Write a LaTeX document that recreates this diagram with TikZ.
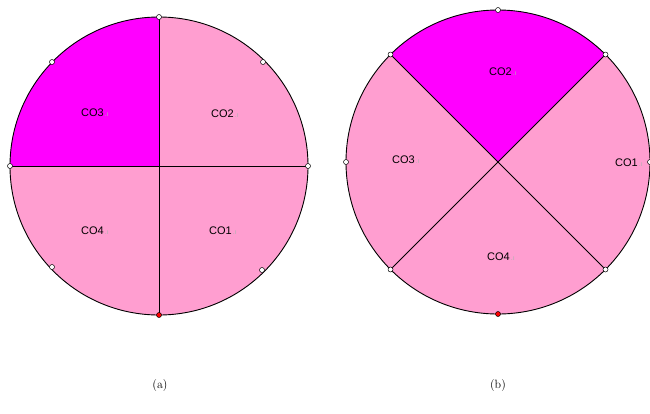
\documentclass[tikz,border=0pt]{standalone}
\usepackage{fontspec}
\newfontfamily\labfont{Liberation Sans}
\definecolor{pinkfill}{RGB}{255,158,208}
\definecolor{magfill}{RGB}{255,0,255}
\tikzset{
  outline/.style={draw=black, line width=0.9pt},
  divider/.style={draw=black, line width=1pt},
  handle/.style={circle, draw=black, fill=white, line width=0.5pt, inner sep=0pt, minimum size=5pt},
  redhandle/.style={handle, fill=red},
  lab/.style={font=\labfont\fontsize{11}{13}\selectfont, inner sep=0pt},
  captext/.style={font=\fontsize{12}{14}\selectfont, inner sep=0pt}
}
\newcommand{\lbl}[1]{#1{\fontsize{7}{7}\selectfont\color{gray!60}\,.\i}}
\begin{document}
\begin{tikzpicture}[x=1pt,y=-1pt]
\useasboundingbox (0,0) rectangle (650,413);
% ---------- (a) ----------
\coordinate (ca) at (159,166);
\def\ra{149}
\fill[pinkfill] (ca) circle[radius=\ra];
\fill[magfill] (ca) -- ++(0,-\ra) arc[start angle=-90, end angle=-180, radius=\ra] -- cycle;
\draw[outline] (ca) circle[radius=\ra];
\path (ca) ++(0,-\ra) coordinate (atop);
\path (ca) ++(0,\ra) coordinate (abot);
\path (ca) ++(-\ra,0) coordinate (aleft);
\path (ca) ++(\ra,0) coordinate (aright);
\draw[divider] (atop) -- (abot);
\draw[divider] (aleft) -- (aright);
\node[handle] (ha1) at (atop) {};
\node[handle] (ha2) at (aleft) {};
\node[handle] (ha3) at (aright) {};
\node[redhandle] (ha4) at (abot) {};
\node[handle] (ha5) at ([shift={(-107,-104)}]ca) {};
\node[handle] (ha6) at ([shift={(104,-104)}]ca) {};
\node[handle] (ha7) at ([shift={(-107,101)}]ca) {};
\node[handle] (ha8) at ([shift={(103,104)}]ca) {};
\node[lab] (a3) at (95,113) {\lbl{CO3}};
\node[lab] (a2) at (225,114) {\lbl{CO2}};
\node[lab] (a4) at (95,231) {\lbl{CO4}};
\node[lab] (a1) at (223,231) {\lbl{CO1}};
\node[captext] (capa) at (160,385) {(a)};
% ---------- (b) ----------
\coordinate (cb) at (498,162);
\def\rb{152}
\fill[pinkfill] (cb) circle[radius=\rb];
\fill[magfill] (cb) -- ++(-45:\rb) arc[start angle=-45, end angle=-135, radius=\rb] -- cycle;
\draw[outline] (cb) circle[radius=\rb];
\path (cb) ++(-135:\rb) coordinate (bul);
\path (cb) ++(-45:\rb) coordinate (bur);
\path (cb) ++(135:\rb) coordinate (bll);
\path (cb) ++(45:\rb) coordinate (blr);
\path (cb) ++(0,-\rb) coordinate (btop);
\path (cb) ++(0,\rb) coordinate (bbot);
\path (cb) ++(-\rb,0) coordinate (bleft);
\path (cb) ++(\rb,0) coordinate (bright);
\draw[divider] (bul) -- (blr);
\draw[divider] (bur) -- (bll);
\node[handle] (hb1) at (btop) {};
\node[handle] (hb2) at (bleft) {};
\node[handle] (hb3) at (bright) {};
\node[redhandle] (hb4) at (bbot) {};
\node[handle] (hb5) at (bul) {};
\node[handle] (hb6) at (bur) {};
\node[handle] (hb7) at (bll) {};
\node[handle] (hb8) at (blr) {};
\node[lab] (b2) at (503,72) {\lbl{CO2}};
\node[lab] (b3) at (406,160) {\lbl{CO3}};
\node[lab] (b1) at (629,163) {\lbl{CO1}};
\node[lab] (b4) at (501,257) {\lbl{CO4}};
\node[captext] (capb) at (498,385) {(b)};
\end{tikzpicture}
\end{document}
